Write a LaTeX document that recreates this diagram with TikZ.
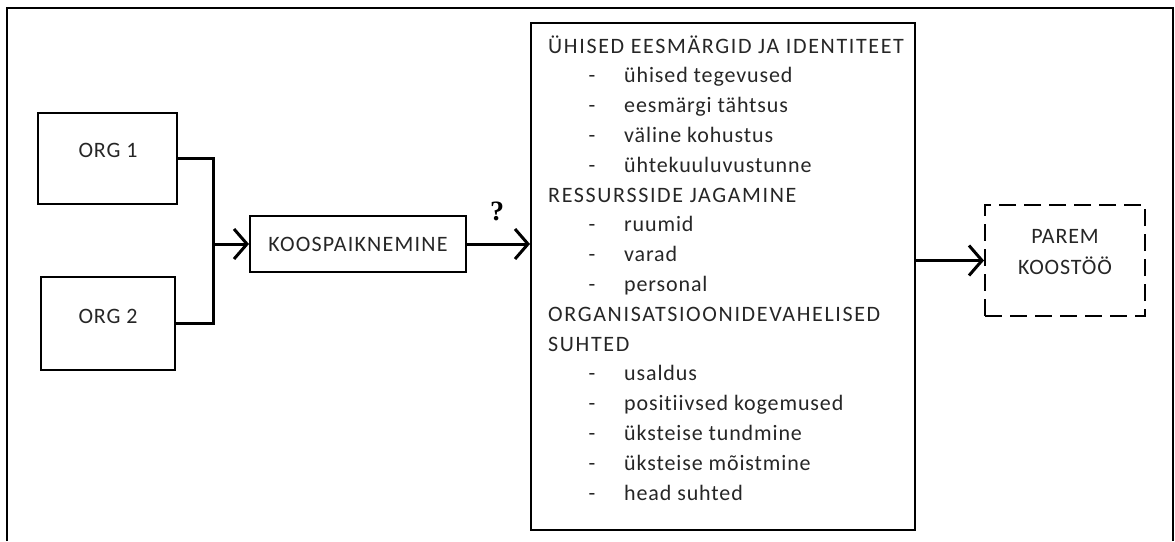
\documentclass[tikz,border=0pt]{standalone}
\usepackage{fontspec}
\setmainfont{Carlito}[LetterSpace=4, Ligatures={NoCommon}]
\newfontfamily\capsfont{Carlito}[LetterSpace=7.5, Ligatures={NoCommon}]
\newfontfamily\qfont{Liberation Serif}
\usetikzlibrary{arrows.meta}
\begin{document}
\begin{tikzpicture}[x=1pt,y=-1pt,
  box/.style={draw, line width=2pt, inner sep=0pt},
  dbox/.style={draw, line width=2pt, inner sep=0pt, dash pattern=on 17pt off 8pt},
  conn/.style={line width=3pt},
  arr/.style={-{Straight Barb[length=13pt,width=30pt]}},
  txt/.style={font=\fontsize{22}{26}\selectfont, inner sep=0pt, text=black!85},
  captxt/.style={font=\capsfont\fontsize{22}{26}\selectfont, inner sep=0pt, text=black!85}]
\useasboundingbox (0,0) rectangle (1175,541);
% outer frame (open at bottom)
\draw[line width=1.8pt] (7,541) -- (7,8) -- (1173,8) -- (1173,541);
% boxes
\node[box, minimum width=139pt, minimum height=91pt] (org1) at (107.5,158.5) {};
\node[box, minimum width=134pt, minimum height=93pt] (org2) at (108,323.5) {};
\node[txt] (org1t) at (108,150) {ORG 1};
\node[txt] (org2t) at (108,316) {ORG 2};
\node[box, minimum width=216pt, minimum height=56pt] (koos) at (358,244) {};
\node[txt, font=\capsfont\fontsize{22}{26}\selectfont\addfontfeature{LetterSpace=5.5}] (koost) at (358,244) {KOOSPAIKNEMINE};
\node[box, minimum width=384pt, minimum height=507pt] (fac) at (723,276.5) {};
\node[dbox, minimum width=160pt, minimum height=111pt] (parem) at (1065,260.5) {};
\node[txt, align=center, font=\fontsize{22}{31}\selectfont] (paremt) at (1065,252.5) {PAREM\\KOOSTÖÖ};
% factor texts
\foreach \i/\t in {0/{ÜHISED EESMÄRGID JA IDENTITEET},5/{RESSURSSIDE JAGAMINE},9/{ORGANISATSIOONIDEVAHELISED},10/{SUHTED}}
  \node[captxt, anchor=base west] (h\i) at (548,{53+29.8*\i}) {\t};
\foreach \i/\t in {1/{ühised tegevused},2/{eesmärgi tähtsus},3/{väline kohustus},4/{ühtekuuluvustunne},6/{ruumid},7/{varad},8/{personal},11/{usaldus},12/{positiivsed kogemused},13/{üksteise tundmine},14/{üksteise mõistmine},15/{head suhted}}{
  \node[txt, anchor=base] (d\i) at (592,{53+29.8*\i}) {-};
  \node[txt, anchor=base west] (t\i) at (624,{53+29.8*\i}) {\t};
}
% connectors
\coordinate (j) at (213,244);
\draw[conn] (org1.east) -| (j) |- (org2.east);
\draw[conn, arr] (j) -- (koos.west);
\draw[conn, arr] (koos.east) -- (koos.east -| fac.west);
\node[font=\qfont\bfseries\fontsize{28}{32}\selectfont, inner sep=0pt] (q) at (497,211) {?};
\draw[conn, arr] (parem.west -| fac.east) -- (parem.west);
\end{tikzpicture}
\end{document}
